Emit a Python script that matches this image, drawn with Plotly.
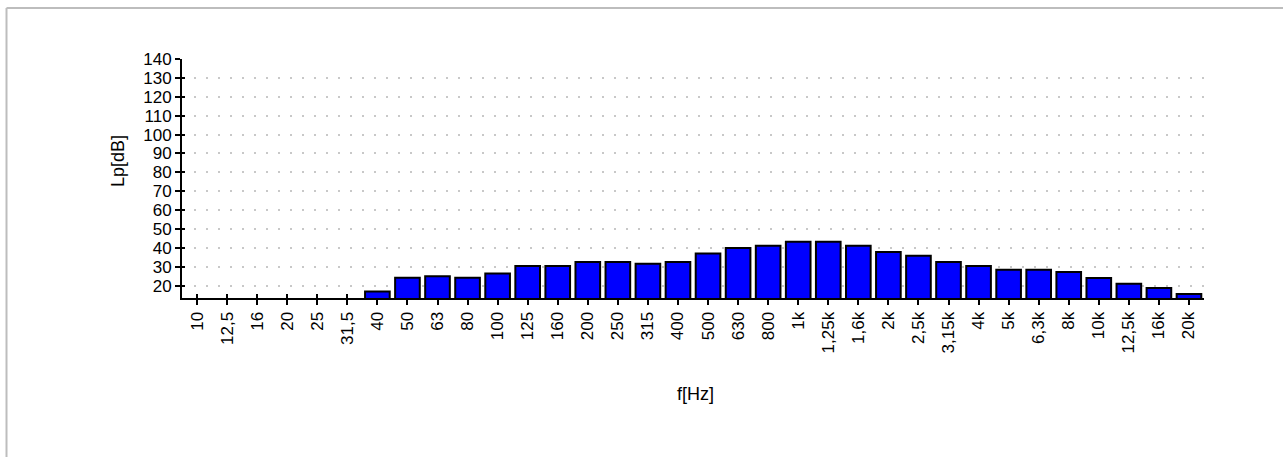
import plotly.graph_objects as go

bands = ["10", "12,5", "16", "20", "25", "31,5", "40", "50", "63", "80", "100", "125",
         "160", "200", "250", "315", "400", "500", "630", "800", "1k", "1,25k", "1,6k",
         "2k", "2,5k", "3,15k", "4k", "5k", "6,3k", "8k", "10k", "12,5k", "16k", "20k"]
lp_db = [None, None, None, None, None, None, 17.0, 24.2, 25.0, 24.2, 26.5, 30.5,
         30.5, 32.6, 32.6, 31.6, 32.6, 37.0, 40.0, 41.2, 43.3, 43.3, 41.2,
         37.9, 35.8, 32.6, 30.5, 28.4, 28.4, 27.3, 24.1, 21.0, 18.8, 15.6]
y_ticks = [20, 30, 40, 50, 60, 70, 80, 90, 100, 110, 120, 130, 140]

W, H = 1283, 457
L, R, T, B = 182, 1204, 59, 298

fig = go.Figure()
fig.add_trace(go.Bar(
    x=bands, y=lp_db,
    marker=dict(color="#0000ff", line=dict(color="#000000", width=2)),
    hoverinfo="x+y",
))

font_family = "Liberation Sans, Arial, sans-serif"
txt = "#000000"

fig.update_layout(
    width=W, height=H,
    margin=dict(l=L, r=W - R, t=T, b=H - B, pad=0),
    paper_bgcolor="white", plot_bgcolor="white",
    showlegend=False,
    bargap=0.18,
    font=dict(family=font_family, color=txt),
    xaxis=dict(
        type="category", range=[-0.5, len(bands) - 0.5],
        showline=True, linecolor="#000000", linewidth=2,
        ticks="outside", ticklen=5, tickwidth=2, tickcolor="#000000",
        tickangle=-90, tickfont=dict(size=17, family=font_family, color=txt),
        showgrid=False, zeroline=False, fixedrange=True,
    ),
    yaxis=dict(
        range=[13.5, 140], tickvals=y_ticks,
        showline=True, linecolor="#000000", linewidth=2,
        ticks="outside", ticklen=5, tickwidth=2, tickcolor="#000000",
        tickfont=dict(size=17, family=font_family, color=txt),
        showgrid=True, gridcolor="#c8c8c8", gridwidth=2, griddash="2px,10px",
        zeroline=False, fixedrange=True,
    ),
    xaxis2=dict(
        type="category", range=[-0.5, len(bands) - 0.5], overlaying="x",
        matches="x", showline=False, ticks="inside", ticklen=4, tickwidth=2,
        tickcolor="#000000", showticklabels=False, showgrid=False,
        layer="below traces", side="bottom", fixedrange=True,
    ),
    yaxis2=dict(
        range=[13.5, 140], tickvals=y_ticks, overlaying="y",
        showline=False, ticks="inside", ticklen=3, tickwidth=2,
        tickcolor="#000000", showticklabels=False, showgrid=False,
        side="left", fixedrange=True,
    ),
)

# invisible trace to activate the secondary axes
fig.add_trace(go.Scatter(x=bands, y=[None] * len(bands), xaxis="x2", yaxis="y2",
                         mode="markers", hoverinfo="skip", showlegend=False))

pw, ph = R - L, B - T
def px(x):
    return (x - L) / pw
def py(y):
    return (B - y) / ph

# axis titles
fig.add_annotation(text="Lp[dB]", x=px(118), y=py(161), xref="paper", yref="paper",
                   xanchor="center", yanchor="middle",
                   textangle=-90, showarrow=False, font=dict(size=18, family=font_family, color=txt))
fig.add_annotation(text="f[Hz]", x=px(695), y=py(394), xref="paper", yref="paper",
                   xanchor="center", yanchor="middle",
                   showarrow=False, font=dict(size=18, family=font_family, color=txt))

# outer frame (left and top edges)
fig.add_shape(type="line", xref="paper", yref="paper", x0=px(6.5), x1=px(6.5),
              y0=py(8), y1=py(H + 5), line=dict(color="#bdbdbd", width=2))
fig.add_shape(type="line", xref="paper", yref="paper", x0=px(6.5), x1=px(W + 5),
              y0=py(8), y1=py(8), line=dict(color="#bdbdbd", width=2))

fig.write_html("out.html", config={"displayModeBar": False},
               post_script="document.body.style.margin='0';document.body.style.overflow='hidden';")
